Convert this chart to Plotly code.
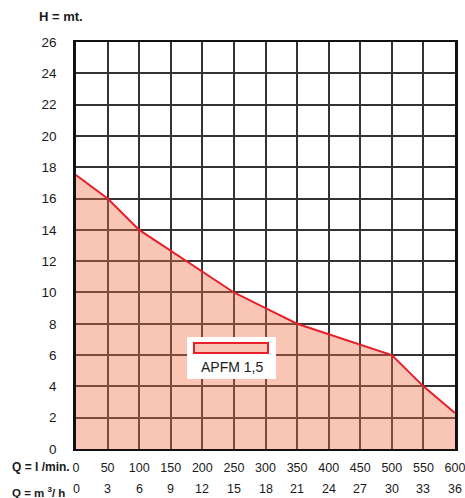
import plotly.graph_objects as go

# Data
q_lmin = [0, 50, 100, 150, 200, 250, 300, 350, 400, 450, 500, 550, 600]
head_m = [17.5, 16, 14, 12.67, 11.33, 10, 9, 8, 7.33, 6.67, 6, 4, 2.3]
x_ticks = [0, 50, 100, 150, 200, 250, 300, 350, 400, 450, 500, 550, 600]
m3h_labels = ["0", "3", "6", "9", "12", "15", "18", "21", "24", "27", "30", "33", "36"]
y_ticks = [0, 2, 4, 6, 8, 10, 12, 14, 16, 18, 20, 22, 24, 26]
series_name = "APFM 1,5"

W, H = 465, 498
L, T, R, B = 76, 42, 10, 49
pw, ph = W - L - R, H - T - B

def px(xp):
    return (xp - L) / pw

def py(yp):
    return (H - B - yp) / ph

FONT = "Liberation Sans, Arial, sans-serif"
TXT = "#1a1a1a"
FILL = "rgba(240,110,70,0.40)"

fig = go.Figure()
fig.add_trace(go.Scatter(
    x=q_lmin, y=head_m, mode="lines", fill="tozeroy",
    fillcolor=FILL,
    line=dict(color="#E8202A", width=2),
    name=series_name, showlegend=False, hoverinfo="skip"))

fig.update_layout(
    width=W, height=H,
    margin=dict(l=L, r=R, t=T, b=B, autoexpand=False),
    paper_bgcolor="white", plot_bgcolor="white",
    font=dict(family=FONT, size=13, color=TXT),
    xaxis=dict(range=[0, 600], tickvals=x_ticks, ticktext=[str(v) for v in x_ticks],
               showgrid=True, gridcolor="#333333", gridwidth=1.5,
               showline=True, linecolor="#111111", linewidth=2, mirror=True,
               ticks="", ticklabelstandoff=6, ticklabeloverflow="allow",
               tickfont=dict(size=12.5), zeroline=False, fixedrange=True),
    yaxis=dict(range=[0, 26], tickvals=y_ticks, ticktext=[str(v) for v in y_ticks],
               showgrid=True, gridcolor="#333333", gridwidth=1.5,
               showline=True, linecolor="#111111", linewidth=2.5, mirror=True,
               ticks="", ticklabelstandoff=14, ticklabeloverflow="allow",
               tickfont=dict(size=13.5), zeroline=False, fixedrange=True),
)

ann = []
ann.append(dict(text="<b>H = mt.</b>", xref="paper", yref="paper", x=px(37), y=1,
                xanchor="left", yanchor="middle", yshift=26, showarrow=False,
                font=dict(size=13, color=TXT)))
ann.append(dict(text="<b>Q = l /min.</b>", xref="paper", yref="paper", x=px(10), y=0,
                xanchor="left", yanchor="middle", yshift=-18, showarrow=False,
                font=dict(size=12, color=TXT)))
ann.append(dict(text="<b>Q = m <sup>3</sup>/ h</b>", xref="paper", yref="paper", x=px(10), y=0,
                xanchor="left", yanchor="middle", yshift=-43, showarrow=False,
                font=dict(size=11.5, color=TXT)))
for xv, lab in zip(x_ticks, m3h_labels):
    ann.append(dict(text=lab, xref="x", yref="paper", x=xv, y=0,
                    xanchor="center", yanchor="middle", yshift=-40, showarrow=False,
                    font=dict(size=12.5, color=TXT)))
ann.append(dict(text=series_name, xref="paper", yref="paper", x=px(232), y=py(367),
                xanchor="center", yanchor="middle", showarrow=False,
                font=dict(size=14, color=TXT)))
fig.update_layout(annotations=ann)

fig.update_layout(shapes=[
    dict(type="rect", xref="paper", yref="paper", x0=px(187), x1=px(276), y0=py(379), y1=py(337),
         fillcolor="white", line=dict(width=0), layer="above"),
    dict(type="rect", xref="paper", yref="paper", x0=px(194), x1=px(268), y0=py(353), y1=py(343),
         fillcolor=FILL, line=dict(color="#E8202A", width=2), layer="above"),
])

fig.write_html("out.html", config={"displayModeBar": False},
               post_script="document.body.style.margin='0';document.body.style.overflow='hidden';")
